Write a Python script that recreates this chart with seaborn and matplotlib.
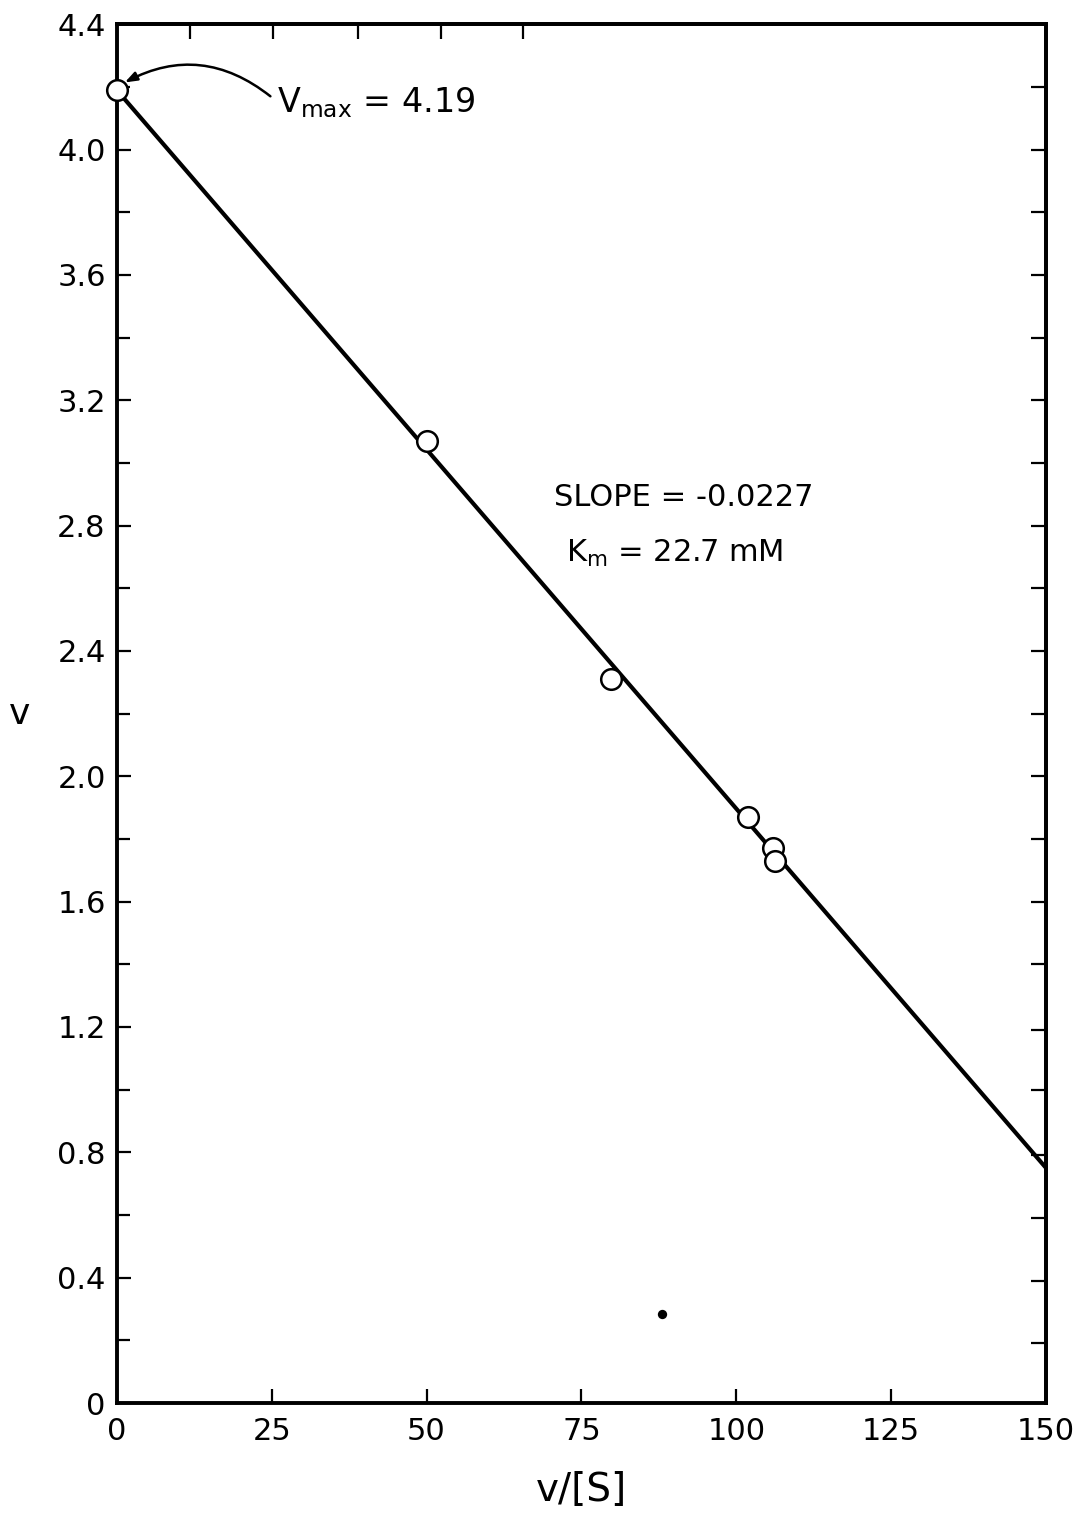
import numpy as np
import pandas as pd
import matplotlib
matplotlib.use("Agg")
import matplotlib.pyplot as plt
import seaborn as sns

# ---- data ----
x_obs = [0.0, 50.0, 79.8, 101.9, 105.9, 106.2]
v_obs = [4.19, 3.07, 2.31, 1.87, 1.77, 1.73]
fit_x = [0.0, 150.0]
fit_v = [4.19, 0.75]
speck_x = [88.0]
speck_v = [0.285]
x_ticks = [0, 25, 50, 75, 100, 125, 150]
x_labels = ["0", "25", "50", "75", "100", "125", "150"]
y_ticks = [0.0, 0.4, 0.8, 1.2, 1.6, 2.0, 2.4, 2.8, 3.2, 3.6, 4.0, 4.4]
y_labels = ["0", "0.4", "0.8", "1.2", "1.6", "2.0", "2.4", "2.8", "3.2", "3.6", "4.0", "4.4"]
top_ticks = [11.8, 25.2, 38.9, 52.3, 65.6]
right_ticks = [0.19, 0.39, 0.59, 0.79, 1.0, 1.19, 1.4, 1.6, 1.8, 2.0, 2.2, 2.4, 2.6, 2.8,
               3.0, 3.2, 3.4, 3.6, 3.8, 4.0, 4.2]

sns.set_theme(style="ticks")
plt.rcParams['font.family'] = ['DejaVu Sans']
plt.rcParams['text.color'] = 'black'
plt.rcParams['axes.labelcolor'] = 'black'
plt.rcParams['xtick.color'] = 'black'
plt.rcParams['ytick.color'] = 'black'

fig = plt.figure(figsize=(10.81, 15.14), dpi=100)
ax = fig.add_axes([0.108, 0.0733, 0.8597, 0.9107])

fit_df = pd.DataFrame({"x": fit_x, "v": fit_v})
obs_df = pd.DataFrame({"x": x_obs, "v": v_obs})
sp_df = pd.DataFrame({"x": speck_x, "v": speck_v})

sns.lineplot(data=fit_df, x="x", y="v", ax=ax, color="black", linewidth=3.0, zorder=2)
sns.scatterplot(data=obs_df, x="x", y="v", ax=ax, s=220, facecolor="white",
                edgecolor="black", linewidth=1.8, zorder=3, clip_on=False)
sns.scatterplot(data=sp_df, x="x", y="v", ax=ax, s=45, color="black", edgecolor="black",
                linewidth=0, zorder=3)

ax.set_xlim(0, 150)
ax.set_ylim(0, 4.4)
ax.set_xticks(x_ticks)
ax.set_xticklabels(x_labels)
ax.set_yticks(y_ticks)
ax.set_yticklabels(y_labels)
ax.set_yticks(np.arange(0.2, 4.4, 0.4), minor=True)

for s in ax.spines.values():
    s.set_linewidth(2.8)
    s.set_color("black")

ax.tick_params(axis="both", which="major", direction="in", length=10, width=1.6,
               labelsize=22, colors="black", pad=8)
ax.tick_params(axis="y", which="minor", direction="in", length=9, width=1.6)
ax.tick_params(axis="x", which="major", pad=10)

secx = ax.secondary_xaxis("top")
secx.set_xticks(top_ticks)
secx.set_xticklabels([""] * len(top_ticks))
secx.tick_params(direction="in", length=11, width=1.6)
secx.spines["top"].set_linewidth(2.8)

secy = ax.secondary_yaxis("right")
secy.set_yticks(right_ticks)
secy.set_yticklabels([""] * len(right_ticks))
secy.tick_params(direction="in", length=11, width=1.6)
secy.spines["right"].set_linewidth(2.8)

ax.set_xlabel("v/[S]", fontsize=28, labelpad=18)
ax.set_ylabel("v", fontsize=26, rotation=0, va="center", ha="center")
ax.yaxis.set_label_coords(-0.105, 0.5)

ax.text(25.8, 4.15, r"V$_{\mathregular{max}}$ = 4.19", fontsize=24, va="center", ha="left")
ax.annotate("", xy=(0.9, 4.21), xytext=(24.8, 4.17),
            arrowprops=dict(arrowstyle="-|>,head_length=0.6,head_width=0.22",
                            color="black", lw=1.8,
                            connectionstyle="arc3,rad=0.33", shrinkA=0, shrinkB=2))

ax.text(91.5, 2.89, "SLOPE = -0.0227", fontsize=22, ha="center", va="center")
ax.text(90.0, 2.71, r"K$_{\mathregular{m}}$ = 22.7 mM", fontsize=22, ha="center", va="center")

fig.savefig("out.png", dpi=100)
